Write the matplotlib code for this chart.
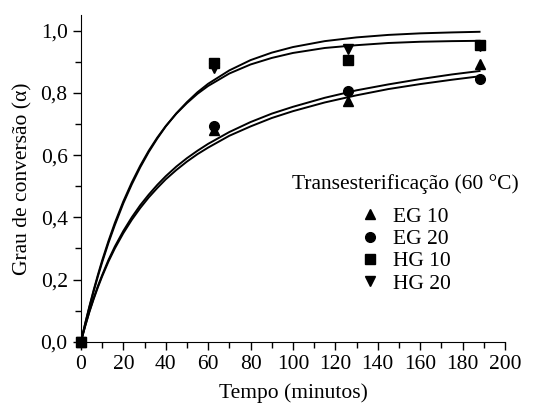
#conversion kinetics chart
#transesterification at 60 C, four samples plus fitted curves

#importing libs
import numpy as np
import matplotlib
matplotlib.use('Agg')
import matplotlib.pyplot as plt
from matplotlib.ticker import MultipleLocator, FuncFormatter

plt.rcParams['font.family'] = ['Liberation Serif', 'DejaVu Serif']

# measured points (time in minutes, as placed on the axis)
t_pts = [0, 63, 126, 188]
eg10 = [0.0, 0.679, 0.775, 0.893]
eg20 = [0.0, 0.692, 0.807, 0.843]
hg10 = [0.0, 0.897, 0.904, 0.955]
hg20 = [0.0, 0.880, 0.942, 0.950]

# fitted curves
t_fit = [0, 2, 4, 6, 8, 10, 13, 16, 20, 24, 28, 32, 36, 40, 45, 50, 55, 60,
         70, 80, 90, 100, 115, 130, 145, 160, 175, 188]
fit_a = [0.0, 0.057, 0.111, 0.162, 0.210, 0.255, 0.318, 0.375, 0.445, 0.506, 0.561, 0.610,
         0.653, 0.692, 0.734, 0.770, 0.802, 0.829,
         0.872, 0.905, 0.929, 0.947, 0.966, 0.978, 0.986, 0.991, 0.994, 0.996]
fit_b = [0.0, 0.059, 0.114, 0.166, 0.215, 0.261, 0.324, 0.382, 0.451, 0.512, 0.566, 0.614,
         0.656, 0.693, 0.733, 0.767, 0.797, 0.822,
         0.862, 0.891, 0.912, 0.928, 0.944, 0.953, 0.960, 0.964, 0.966, 0.967]
fit_c = [0.0, 0.051, 0.098, 0.140, 0.179, 0.214, 0.263, 0.306, 0.356, 0.400, 0.439, 0.473,
         0.504, 0.532, 0.563, 0.590, 0.614, 0.636,
         0.674, 0.706, 0.733, 0.755, 0.784, 0.808, 0.827, 0.844, 0.859, 0.870]
fit_d = [0.0, 0.050, 0.096, 0.137, 0.175, 0.210, 0.258, 0.300, 0.349, 0.392, 0.430, 0.464,
         0.494, 0.522, 0.552, 0.579, 0.603, 0.624,
         0.662, 0.692, 0.719, 0.741, 0.769, 0.792, 0.812, 0.828, 0.842, 0.853]

fig = plt.figure(figsize=(5.43, 4.05), dpi=100)
ax = fig.add_axes([0.149, 0.156, 0.781, 0.807])

for f in [fit_a, fit_b, fit_c, fit_d]:
    ax.plot(t_fit, f, color='black', lw=1.4, zorder=2)

ms = 7.5
ax.plot(t_pts, eg10, ls='none', marker='^', ms=ms, color='black', label='EG 10', clip_on=False, zorder=3)
ax.plot(t_pts, eg20, ls='none', marker='o', ms=ms - 0.5, color='black', label='EG 20', clip_on=False, zorder=3)
ax.plot(t_pts, hg10, ls='none', marker='s', ms=ms - 1, color='black', label='HG 10', clip_on=False, zorder=3)
ax.plot(t_pts, hg20, ls='none', marker='v', ms=ms, color='black', label='HG 20', clip_on=False, zorder=3)

ax.set_xlim(0, 200)
ax.set_ylim(0, 1.05)
ax.xaxis.set_major_locator(MultipleLocator(20))
ax.xaxis.set_minor_locator(MultipleLocator(10))
ax.yaxis.set_major_locator(MultipleLocator(0.2))
ax.yaxis.set_minor_locator(MultipleLocator(0.1))
ax.yaxis.set_major_formatter(FuncFormatter(lambda v, p: ('%.1f' % v).replace('.', ',')))

ax.spines['top'].set_visible(False)
ax.spines['right'].set_visible(False)
ax.tick_params(which='both', direction='out', labelsize=15.5, width=1)
ax.tick_params(which='major', length=6)
ax.tick_params(which='minor', length=4)

ax.set_xlabel('Tempo (minutos)', fontsize=15.5, labelpad=7)
ax.set_ylabel('Grau de conversão (α)', fontsize=15.5, labelpad=6)

leg = ax.legend(title='Transesterificação (60 °C)', loc='center', bbox_to_anchor=(0.764, 0.33),
                frameon=False, fontsize=15.5, title_fontsize=15.5, handlelength=1.0,
                handletextpad=0.6, labelspacing=0.1, borderpad=0.2)
leg._legend_box.sep = 9

fig.savefig('out.png', dpi=100)
